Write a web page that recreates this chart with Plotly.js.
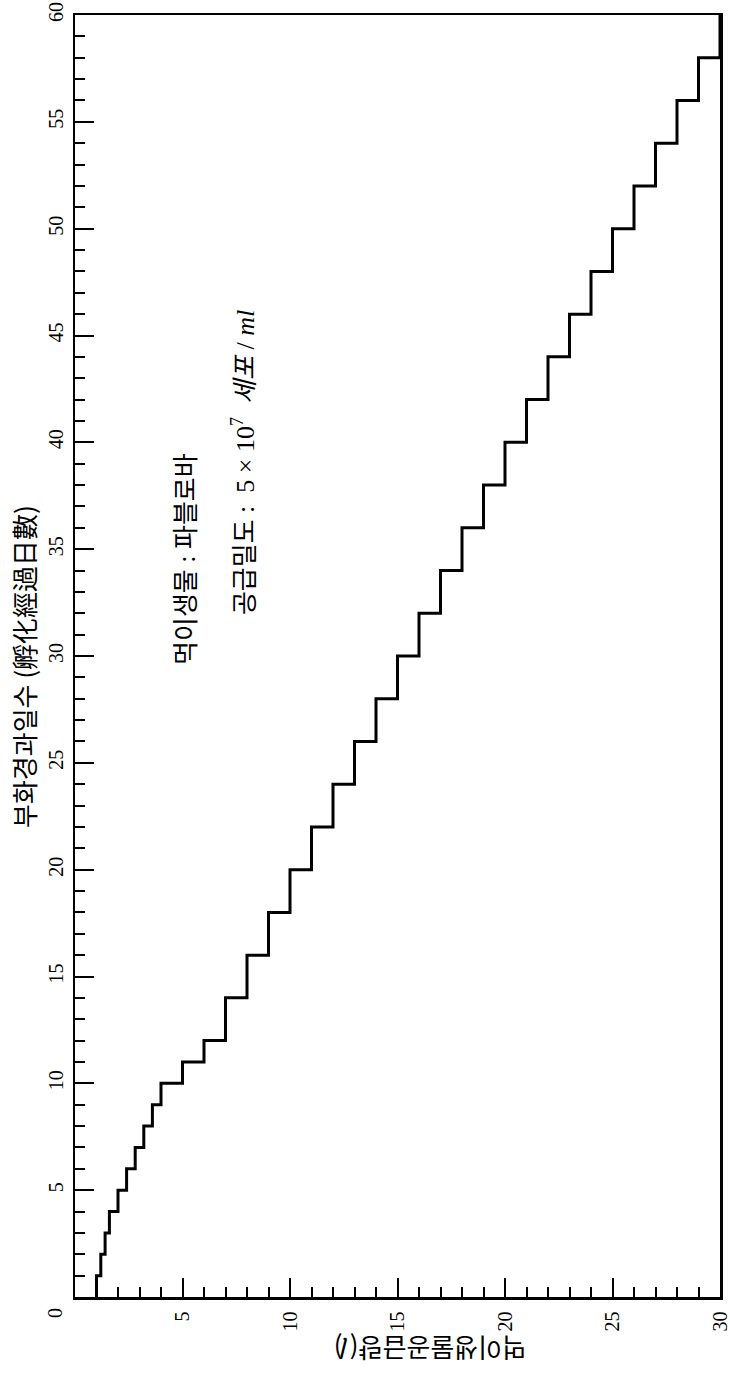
<!DOCTYPE html>
<html>
<head>
<meta charset="utf-8">
<script src="https://cdn.plot.ly/plotly-3.0.1.min.js"></script>
<style>
html,body{margin:0;padding:0;background:#fff;}
#chart{width:730px;height:1380px;}
</style>
</head>
<body>
<div id="chart"></div>
<script>
// Days after hatching at which each supply level starts
const startDay = [0,1,2,3,4,5,6,7,8,9,10,11,12,14,16,18,20,22,24,26,28,30,32,34,36,38,40,42,44,46,48,50,52,54,56,58];
// Food organism supply (l) from that day on
const supplyL  = [1.0,1.2,1.4,1.6,2.0,2.4,2.8,3.2,3.6,4.0,5,6,7,8,9,10,11,12,13,14,15,16,17,18,19,20,21,22,23,24,25,26,27,28,29,30];
const endDay = 60;

const xTickVals = [5,10,15,20,25,30];
const xTickText = ['5','10','15','20','25','30'];
const yTickVals = [5,10,15,20,25,30,35,40,45,50,55,60];
const yTickText = ['5','10','15','20','25','30','35','40','45','50','55','60'];

const xTitle = '먹이생물공급량(<i>l</i>)';
const yTitle = '부화경과일수 (孵化經過日數)';
const note1 = '먹이생물 : 파블로바';
const note2 = '공급밀도 :  5 × 10<sup>7</sup>  <i>세포</i> / <i>ml</i>';

const xs = supplyL.concat([supplyL[supplyL.length - 1]]);
const ys = startDay.concat([endDay]);

const serif = 'Liberation Serif, Times New Roman, Noto Sans CJK KR, serif';
const kr = 'Noto Sans CJK KR, sans-serif';

const trace = {
  type: 'scatter',
  mode: 'lines',
  x: xs,
  y: ys,
  line: {shape: 'vh', color: '#000', width: 3},
  hoverinfo: 'none',
  showlegend: false
};

const axisCommon = {
  showline: true, linecolor: '#000', linewidth: 2.5, mirror: true,
  ticks: 'inside', ticklen: 19, tickwidth: 2, tickcolor: '#000',
  tickmode: 'array', tickangle: -90, ticklabeloverflow: 'allow',
  tickfont: {family: serif, size: 20, color: '#000'},
  showgrid: false, zeroline: false,
  minor: {tickmode: 'linear', tick0: 0, dtick: 1, ticks: 'inside', ticklen: 10, tickwidth: 2, tickcolor: '#000', showgrid: false}
};

const layout = {
  width: 730, height: 1380,
  margin: {l: 75, r: 10, t: 15, b: 83},
  paper_bgcolor: '#fff', plot_bgcolor: '#fff',
  xaxis: Object.assign({}, axisCommon, {range: [0, 30], tickvals: xTickVals, ticktext: xTickText, ticklabelstandoff: 4}),
  yaxis: Object.assign({}, axisCommon, {range: [0, 60], tickvals: yTickVals, ticktext: yTickText, ticklabelstandoff: 2}),
  annotations: [
    {xref: 'paper', yref: 'paper', x: -0.0806, y: 0.4914, text: yTitle, textangle: -90, showarrow: false,
     xanchor: 'center', yanchor: 'middle', font: {family: kr, size: 26, color: '#000'}},
    {xref: 'paper', yref: 'paper', x: 0.5504, y: -0.041, text: xTitle, textangle: 180, showarrow: false,
     xanchor: 'center', yanchor: 'middle', font: {family: kr, size: 26, color: '#000'}},
    {xref: 'paper', yref: 'paper', x: -0.031, y: -0.0125, text: '0', textangle: -90, showarrow: false,
     xanchor: 'center', yanchor: 'middle', font: {family: serif, size: 20, color: '#000'}},
    {xref: 'paper', yref: 'paper', x: 0.1736, y: 0.5757, text: note1, textangle: -90, showarrow: false,
     xanchor: 'center', yanchor: 'middle', font: {family: serif, size: 26, color: '#000'}},
    {xref: 'paper', yref: 'paper', x: 0.2605, y: 0.6505, text: note2, textangle: -90, showarrow: false,
     xanchor: 'center', yanchor: 'middle', font: {family: serif, size: 26, color: '#000'}}
  ]
};

Plotly.newPlot('chart', [trace], layout, {displayModeBar: false, staticPlot: true});
</script>
</body>
</html>
